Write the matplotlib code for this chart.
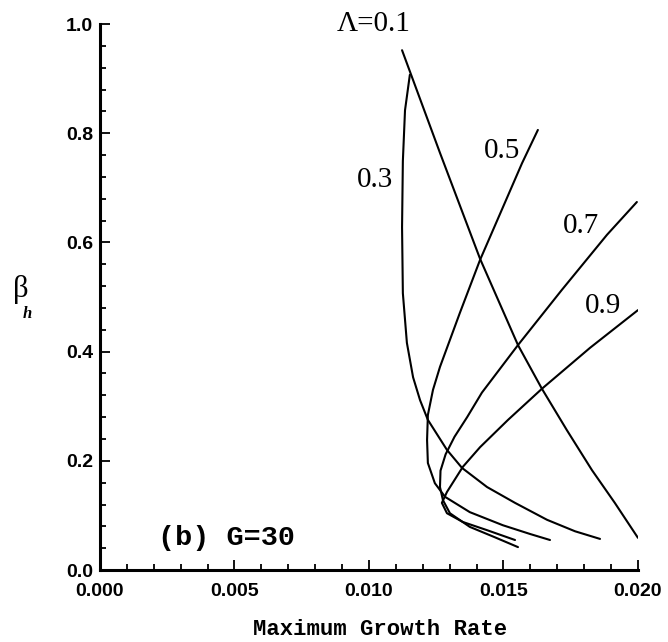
import matplotlib.pyplot as plt
from matplotlib.ticker import MultipleLocator, FormatStrFormatter

# growth rate (x) and beta_h (y) for each Lambda
x_01 = [0.01123, 0.01264, 0.01413, 0.01554, 0.01643, 0.01736, 0.01829,
        0.01914, 0.02000]
y_01 = [0.952, 0.764, 0.570, 0.412, 0.332, 0.256, 0.183, 0.123, 0.059]

x_03 = [0.01152, 0.01134, 0.01126, 0.01123, 0.01126, 0.01141, 0.01164,
        0.01190, 0.01219, 0.01290, 0.01346, 0.01439, 0.01543, 0.01662,
        0.01766, 0.01859]
y_03 = [0.907, 0.842, 0.749, 0.628, 0.507, 0.416, 0.353,
        0.311, 0.275, 0.220, 0.187, 0.152, 0.123, 0.092,
        0.071, 0.057]

x_05 = [0.01628, 0.01569, 0.01413, 0.01338, 0.01264, 0.01238, 0.01219,
        0.01216, 0.01219, 0.01245, 0.01283, 0.01375, 0.01498, 0.01599,
        0.01673]
y_05 = [0.806, 0.745, 0.568, 0.471, 0.372, 0.330, 0.284,
        0.238, 0.196, 0.159, 0.134, 0.106, 0.082, 0.066,
        0.055]

x_07 = [0.01996, 0.01885, 0.01717, 0.01554, 0.01420, 0.01365, 0.01318,
        0.01285, 0.01266, 0.01264, 0.01275, 0.01301, 0.01375, 0.01468,
        0.01554]
y_07 = [0.674, 0.614, 0.513, 0.412, 0.325, 0.280, 0.244,
        0.212, 0.182, 0.152, 0.128, 0.104, 0.079, 0.060,
        0.042]

x_09 = [0.02000, 0.01822, 0.01643, 0.01517, 0.01413, 0.01349, 0.01290,
        0.01271, 0.01290, 0.01349, 0.01439, 0.01543]
y_09 = [0.476, 0.407, 0.332, 0.275, 0.225, 0.189, 0.143,
        0.123, 0.104, 0.088, 0.073, 0.055]

curve_labels = ['\u039b=0.1', '0.3', '0.5', '0.7', '0.9']
label_x = [0.01019, 0.01022, 0.01494, 0.01788, 0.01870]
label_y = [1.000, 0.714, 0.767, 0.630, 0.484]

fig = plt.figure(figsize=(6.68, 6.42), dpi=100)
ax = fig.add_axes([0.1497, 0.1121, 0.8053, 0.8505])

for xs, ys in [(x_01, y_01), (x_03, y_03), (x_05, y_05), (x_07, y_07), (x_09, y_09)]:
    ax.plot(xs, ys, color='black', lw=1.5, solid_capstyle='round',
            solid_joinstyle='round')

for lab, lx, ly in zip(curve_labels, label_x, label_y):
    ax.text(lx, ly, lab, fontsize=21, family='Liberation Serif',
            ha='center', va='center', clip_on=False)

ax.text(0.00472, 0.059, '(b) G=30', fontsize=20.5, family='Liberation Mono',
        fontweight='bold', ha='center', va='center')

ax.set_xlim(0, 0.020)
ax.set_ylim(0, 1.0)
ax.xaxis.set_major_locator(MultipleLocator(0.005))
ax.xaxis.set_minor_locator(MultipleLocator(0.001))
ax.yaxis.set_major_locator(MultipleLocator(0.2))
ax.yaxis.set_minor_locator(MultipleLocator(0.04))
ax.xaxis.set_major_formatter(FormatStrFormatter('%.3f'))
ax.yaxis.set_major_formatter(FormatStrFormatter('%.1f'))

for s in ['top', 'right']:
    ax.spines[s].set_visible(False)
for s in ['left', 'bottom']:
    ax.spines[s].set_linewidth(2.2)

ax.tick_params(which='both', direction='in', width=1.3)
ax.tick_params(which='major', length=7)
ax.tick_params(which='minor', length=4)
ax.tick_params(axis='x', which='major', pad=9)
ax.tick_params(axis='y', which='major', pad=5)
for t in ax.get_xticklabels() + ax.get_yticklabels():
    t.set_family('Liberation Sans')
    t.set_fontweight('bold')
    t.set_fontsize(14)

ax.set_xlabel('Maximum Growth Rate', family='Liberation Mono',
              fontweight='bold', fontsize=16, labelpad=14)
ax.xaxis.label.set_x(0.52)

# beta_h label built from two pieces
fig.text(21 / 668, 1 - 289 / 642, '\u03b2', fontsize=22, family='Liberation Serif',
         ha='center', va='center')
fig.text(27 / 668, 1 - 314 / 642, 'h', fontsize=12, family='Liberation Serif',
         style='italic', fontweight='bold', ha='center', va='center')

fig.savefig('out.png', dpi=100)
